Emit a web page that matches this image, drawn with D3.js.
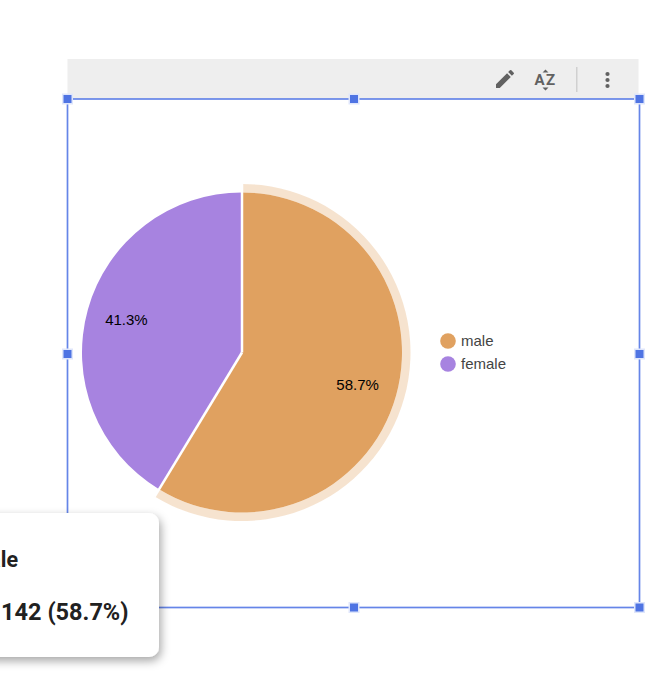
<!DOCTYPE html>
<html><head><meta charset="utf-8">
<script src="https://cdn.jsdelivr.net/npm/d3@7"></script>
<style>html,body{margin:0;padding:0;background:#fff;overflow:hidden}svg{display:block}</style>
</head><body>
<svg id="c" width="667" height="682"></svg>
<script>
const categories = ["male", "female"];
const values = [142, 100];
const percentLabels = ["58.7%", "41.3%"];
const colors = ["#e0a160", "#a783e0"];
const tooltipTitle = "male";
const tooltipValue = "142 (58.7%)";

const svg = d3.select("#c");
const sans = "Arial, 'Liberation Sans', sans-serif";

// toolbar
svg.append("rect").attr("x",67.5).attr("y",59).attr("width",571).attr("height",40).attr("fill","#eeeeee");
const tb = svg.append("g").attr("fill","#616161");
tb.append("path").attr("transform","translate(493,67)").attr("d","M3 17.25V21h3.75L17.81 9.94l-3.75-3.75L3 17.25zM20.71 7.04a1 1 0 0 0 0-1.41l-2.34-2.34a1 1 0 0 0-1.41 0l-1.83 1.83 3.75 3.75 1.83-1.83z");
tb.append("text").attr("x",534.5).attr("y",85).attr("font-family","Roboto, sans-serif").attr("font-weight",700).attr("font-size",15).text("A");
tb.append("text").attr("x",546).attr("y",85).attr("font-family","Roboto, sans-serif").attr("font-weight",700).attr("font-size",15).text("Z");
tb.append("path").attr("d","M542.5 72.5l3-3 3 3zM542.5 87.5l3 3 3-3z");
svg.append("rect").attr("x",576).attr("y",67).attr("width",1.5).attr("height",25).attr("fill","#d0d0d0");
[74,80,86].forEach(y=>tb.append("circle").attr("cx",607.5).attr("cy",y).attr("r",2.1));

// selection frame
const fx0=67.5,fx1=639.5,fy0=99,fy1=607.5,mx=354,my=354;
svg.append("rect").attr("x",fx0).attr("y",fy0).attr("width",fx1-fx0).attr("height",fy1-fy0)
  .attr("fill","#fff").attr("stroke","#6585e8").attr("stroke-width",1.7);
[[fx0,fy0],[mx,fy0],[fx1,fy0],[fx0,my],[fx1,my],[mx,fy1],[fx1,fy1],[fx0,fy1]].forEach(([x,y])=>{
  svg.append("rect").attr("x",x-5.5).attr("y",y-5.5).attr("width",11).attr("height",11).attr("fill","#dfe6fb");
  svg.append("rect").attr("x",x-4).attr("y",y-4).attr("width",8).attr("height",8).attr("fill","#4f74e3");
});

// pie
const cx=242, cy=352.5, r=160;
const color=d3.scaleOrdinal().domain(categories).range(colors);
const pie=d3.pie().sort(null).value(d=>d.value);
const data=pie(categories.map((c,i)=>({cat:c,value:values[i],label:percentLabels[i]})));
const g=svg.append("g").attr("transform",`translate(${cx},${cy})`);
const arc=d3.arc().innerRadius(0).outerRadius(r);
const halo=d3.arc().innerRadius(r).outerRadius(r+8.5);
g.append("path").datum(data[0]).attr("d",halo).attr("fill",colors[0]).attr("fill-opacity",0.3);
g.selectAll("path.s").data(data).join("path").attr("class","s").attr("d",arc)
  .attr("fill",d=>color(d.data.cat));
// white separators along the slice edges only
g.selectAll("path.sep").data(data).join("path").attr("class","sep")
  .attr("d",d=>d3.lineRadial()([[d.startAngle,0],[d.startAngle,r+8.5]]))
  .attr("stroke","#fff").attr("stroke-width",2.5).attr("fill","none");
const labelArc=d3.arc().innerRadius(r*0.75).outerRadius(r*0.75);
g.selectAll("text.p").data(data).join("text").attr("class","p")
  .attr("transform",d=>`translate(${labelArc.centroid(d)})`)
  .attr("text-anchor","middle").attr("dy","0.35em").attr("font-family",sans).attr("font-size",15).attr("fill","#000")
  .text(d=>d.data.label);

// legend
categories.forEach((c,i)=>{
  const y=341+i*23;
  svg.append("circle").attr("cx",448).attr("cy",y).attr("r",7.8).attr("fill",colors[i]);
  svg.append("text").attr("x",461).attr("y",y).attr("dy","0.35em").attr("font-family",sans).attr("font-size",15).attr("fill","#444").text(c);
});

// tooltip
const defs=svg.append("defs");
const f=defs.append("filter").attr("id","sh").attr("x","-20%").attr("y","-20%").attr("width","140%").attr("height","150%");
f.append("feDropShadow").attr("dx",2).attr("dy",4).attr("stdDeviation",5).attr("flood-color","#000").attr("flood-opacity",0.35);
svg.append("rect").attr("x",-60).attr("y",513).attr("width",219).attr("height",144).attr("rx",10).attr("fill","#fff").attr("filter","url(#sh)");
svg.append("text").attr("x",18).attr("y",567).attr("text-anchor","end").attr("font-family","Roboto, sans-serif").attr("font-weight",700).attr("font-size",21.5).attr("fill","#212121").text(tooltipTitle);
svg.append("text").attr("x",128.5).attr("y",620).attr("text-anchor","end").attr("font-family","Roboto, sans-serif").attr("font-weight",700).attr("font-size",23.5).attr("fill","#212121").text(tooltipValue);
</script>
</body></html>
